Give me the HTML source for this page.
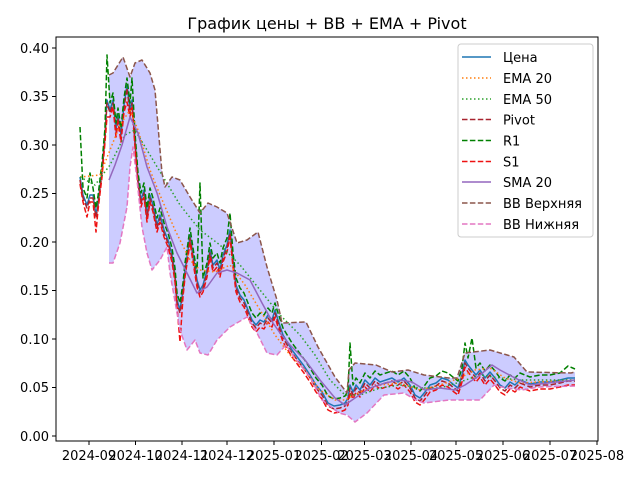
<!DOCTYPE html>
<html><head><meta charset="utf-8"><style>
body{margin:0;background:#fff}
svg{display:block;font-family:"DejaVu Sans","Liberation Sans",sans-serif}
</style></head><body>
<svg width="640" height="480" viewBox="0 0 640 480">
<rect width="640" height="480" fill="#fff"/>
<text x="327" y="29" font-size="16" text-anchor="middle" fill="#000">График цены + BB + EMA + Pivot</text>
<defs><clipPath id="c"><rect x="56" y="37" width="542" height="404"/></clipPath></defs>
<g clip-path="url(#c)" fill="none" stroke-linejoin="round">
<polygon fill="#ccccff" stroke="none" points="109,75 113,73 123,57 130,77 135,63 142,60 150,73 155,90 162,173 165,187 172,177 180,180 190,197 200,213 208,203 217,207 227,213 237,243 247,240 258,232 267,267 277,300 282,323 306,322 318,347 335,377 347,393 349,370 355,363 376,365 392,372 408,370 424,375 449,378 457,378 465,353 490,350 514,357 527,372 571,373 575,372 575,386 539,387 522,390 506,388 494,385 480,400 465,400 449,400 424,403 416,400 404,393 384,395 367,413 355,422 347,415 339,413 322,400 310,377 294,357 286,345 277,355 267,353 257,333 247,317 230,327 217,340 208,355 200,353 195,340 187,350 180,330 170,273 167,247 160,260 152,270 147,253 142,227 137,180 133,147 130,167 127,207 120,243 113,263 109,263"/>
<polyline stroke="#1f77b4" stroke-width="1.5" points="80,177 83,195 87,205 90,195 93,195 96,215 98,203 102,170 105,135 107,100 110,110 113,100 116,130 118,115 121,135 124,105 127,85 130,110 132,100 135,140 138,180 141,200 144,190 147,215 150,195 153,205 157,225 160,215 164,230 168,240 172,255 175,275 177,300 180,310 183,290 185,270 188,250 190,235 193,255 197,280 200,290 203,285 207,270 210,250 213,265 217,260 220,270 223,255 227,245 230,230 233,260 236,285 240,295 244,300 248,310 252,320 256,325 260,320 264,322 268,315 272,320 275,310 278,320 283,335 286,340 292,350 298,358 304,366 310,375 316,385 322,392 328,403 334,406 340,405 345,403 348,398 350,385 353,392 356,385 360,390 365,380 370,385 375,378 380,382 386,380 392,378 398,382 404,378 410,385 415,395 420,398 425,392 430,385 436,383 442,378 448,380 454,385 458,388 462,375 465,360 468,365 472,370 476,375 480,370 485,378 490,372 495,378 500,385 505,388 510,382 515,385 520,380 530,384 540,382 550,382 560,380 568,378 575,378"/>
<g transform="translate(0,3)"><polyline stroke="#a8232f" stroke-width="1.5" stroke-dasharray="5.5,2.4" points="80,177 83,195 87,205 90,195 93,195 96,215 98,203 102,170 105,135 107,100 110,110 113,100 116,130 118,115 121,135 124,105 127,85 130,110 132,100 135,140 138,180 141,200 144,190 147,215 150,195 153,205 157,225 160,215 164,230 168,240 172,255 175,275 177,300 180,310 183,290 185,270 188,250 190,235 193,255 197,280 200,290 203,285 207,270 210,250 213,265 217,260 220,270 223,255 227,245 230,230 233,260 236,285 240,295 244,300 248,310 252,320 256,325 260,320 264,322 268,315 272,320 275,310 278,320 283,335 286,340 292,350 298,358 304,366 310,375 316,385 322,392 328,403 334,406 340,405 345,403 348,398 350,385 353,392 356,385 360,390 365,380 370,385 375,378 380,382 386,380 392,378 398,382 404,378 410,385 415,395 420,398 425,392 430,385 436,383 442,378 448,380 454,385 458,388 462,375 465,360 468,365 472,370 476,375 480,370 485,378 490,372 495,378 500,385 505,388 510,382 515,385 520,380 530,384 540,382 550,382 560,380 568,378 575,378"/></g>
<g transform="translate(0,-7)"><polyline stroke="#008000" stroke-width="1.5" stroke-dasharray="5.5,2.4" points="80,134 83,195 87,205 90,180 93,195 96,215 98,203 102,170 105,135 107,62 110,110 113,100 116,130 118,115 121,135 124,105 127,85 130,110 132,85 135,140 138,180 141,200 144,190 147,215 150,195 153,205 157,225 160,215 164,230 168,240 172,255 175,275 177,300 180,310 183,290 185,270 188,250 190,235 193,255 197,280 200,190 203,285 207,270 210,250 213,265 217,260 220,270 223,255 227,245 230,220 233,260 236,285 240,295 244,300 248,310 252,320 256,325 260,320 264,322 268,315 272,320 275,310 278,320 283,335 286,340 292,350 298,358 304,366 310,375 316,385 322,392 328,403 334,406 340,405 345,403 348,398 350,350 353,392 356,385 360,390 365,380 370,385 375,378 380,382 386,380 392,378 398,382 404,378 410,385 415,395 420,398 425,392 430,385 436,383 442,378 448,380 454,385 458,388 462,375 465,350 468,365 472,345 476,375 480,370 485,378 490,372 495,378 500,385 505,388 510,382 515,385 520,380 530,384 540,382 550,382 560,380 568,373 575,376"/></g>
<g transform="translate(0,7)"><polyline stroke="#ee1111" stroke-width="1.5" stroke-dasharray="5.5,2.4" points="80,177 83,195 87,210 90,195 93,195 96,225 98,203 102,170 105,135 107,110 110,110 113,100 116,130 118,115 121,135 124,105 127,95 130,110 132,100 135,140 138,180 141,200 144,190 147,215 150,195 153,205 157,225 160,215 164,230 168,240 172,255 175,275 177,300 180,335 183,290 185,270 188,250 190,235 193,255 197,280 200,290 203,285 207,270 210,250 213,265 217,260 220,270 223,255 227,245 230,230 233,260 236,285 240,295 244,300 248,310 252,320 256,325 260,320 264,322 268,315 272,320 275,310 278,320 283,335 286,340 292,350 298,358 304,366 310,375 316,385 322,392 328,403 334,406 340,405 345,403 348,398 350,385 353,392 356,385 360,390 365,380 370,385 375,378 380,382 386,380 392,378 398,382 404,378 410,385 415,395 420,398 425,392 430,385 436,383 442,378 448,380 454,385 458,388 462,375 465,360 468,365 472,370 476,375 480,370 485,378 490,372 495,378 500,385 505,388 510,382 515,385 520,380 530,384 540,382 550,382 560,380 568,378 575,378"/></g>
<polyline stroke="#ff7f0e" stroke-width="1.5" stroke-dasharray="1.5,2.5" points="80,177 100,175 110,150 120,125 130,110 138,130 150,170 160,195 175,230 190,260 200,270 215,272 230,265 245,285 260,310 275,335 290,355 305,370 320,390 335,400 345,400 360,392 380,385 400,383 420,390 440,385 460,378 475,370 490,368 505,378 520,383 575,380"/>
<polyline stroke="#2ca02c" stroke-width="1.5" stroke-dasharray="1.5,2.5" points="80,177 95,185 110,165 125,135 135,130 150,155 165,180 180,205 200,230 220,245 240,265 260,290 280,315 300,335 315,355 330,380 345,395 360,395 380,388 400,385 420,388 440,388 460,382 480,375 500,378 520,380 575,380"/>
<polyline stroke="#9467bd" stroke-width="1.5" points="109,180 115,165 122,145 130,117 138,133 147,167 157,193 167,227 177,253 187,273 197,293 207,287 217,273 227,270 237,273 250,280 262,303 273,323 280,333 290,345 305,360 320,380 335,398 345,405 355,398 370,388 385,383 400,380 412,382 425,390 440,388 455,390 465,385 480,375 492,365 500,370 515,378 530,385 575,380"/>
<polyline stroke="#8c564b" stroke-width="1.5" stroke-dasharray="5.5,2.4" points="109,75 113,73 123,57 130,77 135,63 142,60 150,73 155,90 162,173 165,187 172,177 180,180 190,197 200,213 208,203 217,207 227,213 237,243 247,240 258,232 267,267 277,300 282,323 306,322 318,347 335,377 347,393 349,370 355,363 376,365 392,372 408,370 424,375 449,378 457,378 465,353 490,350 514,357 527,372 571,373 575,372"/>
<polyline stroke="#e377c2" stroke-width="1.5" stroke-dasharray="5.5,2.4" points="109,263 113,263 120,243 127,207 130,167 133,147 137,180 142,227 147,253 152,270 160,260 167,247 170,273 180,330 187,350 195,340 200,353 208,355 217,340 230,327 247,317 257,333 267,353 277,355 286,345 294,357 310,377 322,400 339,413 347,415 355,422 367,413 384,395 404,393 416,400 424,403 449,400 465,400 480,400 494,385 506,388 522,390 539,387 575,386"/>
</g>
<rect x="56" y="37" width="542" height="404" fill="none" stroke="#000" stroke-width="1"/>
<g stroke="#000" stroke-width="1">
<line x1="56" y1="436" x2="52" y2="436"/><line x1="56" y1="387.5" x2="52" y2="387.5"/><line x1="56" y1="339" x2="52" y2="339"/><line x1="56" y1="290.5" x2="52" y2="290.5"/><line x1="56" y1="242" x2="52" y2="242"/><line x1="56" y1="193.5" x2="52" y2="193.5"/><line x1="56" y1="145" x2="52" y2="145"/><line x1="56" y1="96.5" x2="52" y2="96.5"/><line x1="56" y1="48" x2="52" y2="48"/>
<line x1="89" y1="441" x2="89" y2="445"/><line x1="135.5" y1="441" x2="135.5" y2="445"/><line x1="182" y1="441" x2="182" y2="445"/><line x1="227" y1="441" x2="227" y2="445"/><line x1="274" y1="441" x2="274" y2="445"/><line x1="321.5" y1="441" x2="321.5" y2="445"/><line x1="364.5" y1="441" x2="364.5" y2="445"/><line x1="411" y1="441" x2="411" y2="445"/><line x1="456" y1="441" x2="456" y2="445"/><line x1="503" y1="441" x2="503" y2="445"/><line x1="550" y1="441" x2="550" y2="445"/><line x1="597" y1="441" x2="597" y2="445"/>
</g>
<g font-size="13" fill="#000" text-anchor="end">
<text x="49" y="441">0.00</text><text x="49" y="392">0.05</text><text x="49" y="344">0.10</text><text x="49" y="295">0.15</text><text x="49" y="247">0.20</text><text x="49" y="198">0.25</text><text x="49" y="150">0.30</text><text x="49" y="101">0.35</text><text x="49" y="53">0.40</text>
</g>
<g font-size="13" fill="#000" text-anchor="middle">
<text x="89" y="460">2024-09</text><text x="135.5" y="460">2024-10</text><text x="182" y="460">2024-11</text><text x="227" y="460">2024-12</text><text x="274" y="460">2025-01</text><text x="321.5" y="460">2025-02</text><text x="364.5" y="460">2025-03</text><text x="411" y="460">2025-04</text><text x="456" y="460">2025-05</text><text x="503" y="460">2025-06</text><text x="550" y="460">2025-07</text><text x="597" y="460">2025-08</text>
</g>
<rect x="458" y="44" width="135" height="193" rx="3" fill="#fff" fill-opacity="0.8" stroke="#ccc"/>
<g stroke-width="1.5" fill="none">
<line x1="462" y1="57" x2="491" y2="57" stroke="#1f77b4"/>
<line x1="462" y1="78" x2="491" y2="78" stroke="#ff7f0e" stroke-dasharray="1.5,2.5"/>
<line x1="462" y1="99" x2="491" y2="99" stroke="#2ca02c" stroke-dasharray="1.5,2.5"/>
<line x1="462" y1="119.5" x2="491" y2="119.5" stroke="#a8232f" stroke-dasharray="5.5,2.4"/>
<line x1="462" y1="140.5" x2="491" y2="140.5" stroke="#008000" stroke-dasharray="5.5,2.4"/>
<line x1="462" y1="161.5" x2="491" y2="161.5" stroke="#ee1111" stroke-dasharray="5.5,2.4"/>
<line x1="462" y1="182" x2="491" y2="182" stroke="#9467bd"/>
<line x1="462" y1="203" x2="491" y2="203" stroke="#8c564b" stroke-dasharray="5.5,2.4"/>
<line x1="462" y1="224" x2="491" y2="224" stroke="#e377c2" stroke-dasharray="5.5,2.4"/>
</g>
<g font-size="13" fill="#000">
<text x="503" y="62">Цена</text><text x="503" y="83">EMA 20</text><text x="503" y="104">EMA 50</text><text x="503" y="124.5">Pivot</text><text x="503" y="145.5">R1</text><text x="503" y="166.5">S1</text><text x="503" y="187">SMA 20</text><text x="503" y="208">BB Верхняя</text><text x="503" y="229">BB Нижняя</text>
</g>
</svg>
</body></html>
